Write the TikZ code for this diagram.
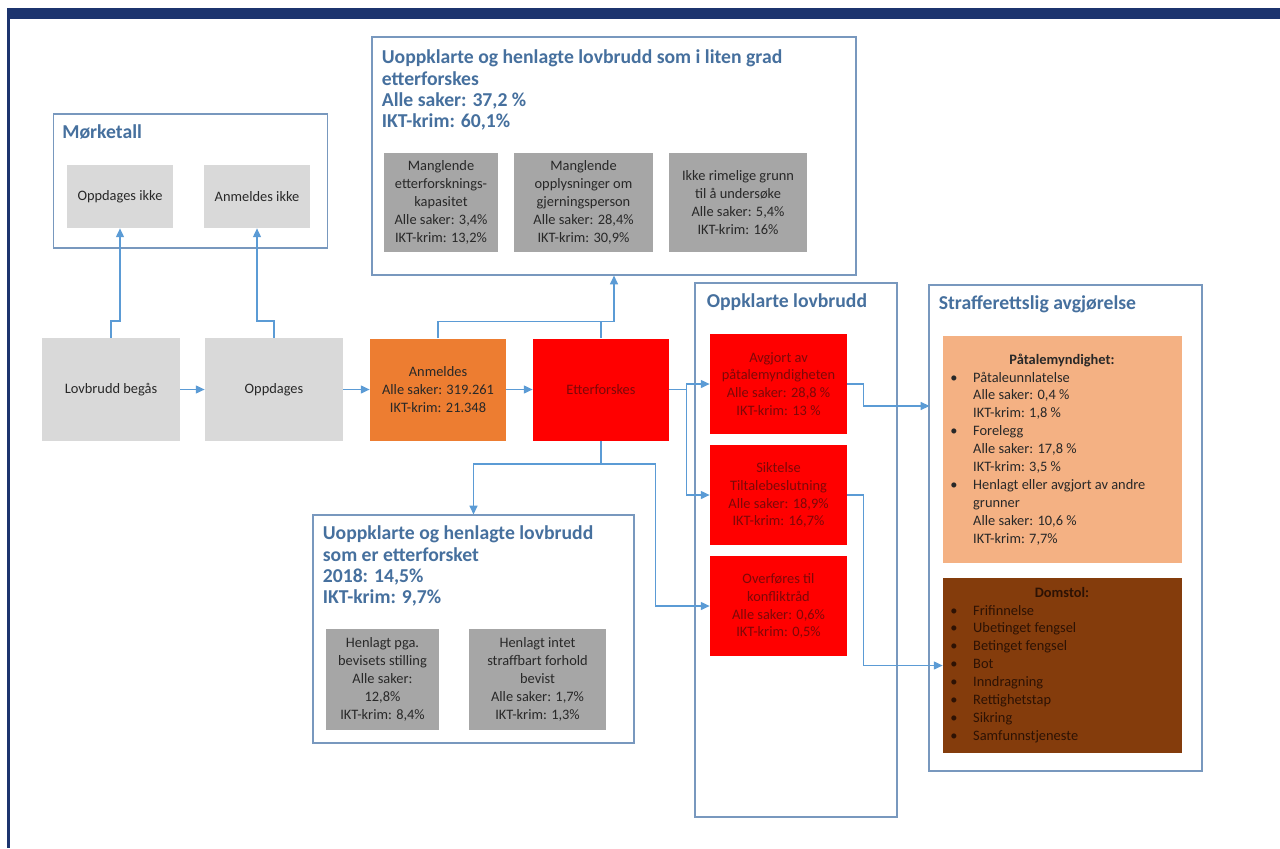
\documentclass[tikz,border=0pt]{standalone}
\usepackage{fontspec}
\setmainfont{Carlito}
\usetikzlibrary{arrows.meta,calc}

\definecolor{navy}{RGB}{28,52,110}
\definecolor{linkblue}{RGB}{91,155,213}
\definecolor{frameblue}{RGB}{120,152,190}
\definecolor{titleblue}{RGB}{70,112,158}
\definecolor{lightgray}{RGB}{217,217,217}
\definecolor{midgray}{RGB}{166,166,166}
\definecolor{boxorange}{RGB}{237,125,49}
\definecolor{boxred}{RGB}{255,0,0}
\definecolor{paleorange}{RGB}{244,177,131}
\definecolor{boxbrown}{RGB}{132,60,12}
\definecolor{redtext}{RGB}{125,8,8}
\definecolor{browntext}{RGB}{45,18,4}
\definecolor{darktext}{RGB}{40,40,40}

\newcommand{\boxfont}{\fontsize{8.2}{10.2}\selectfont}
\newcommand{\headfont}{\fontsize{11.2}{12.2}\selectfont\bfseries}
\newcommand{\bul}{\makebox[13pt][l]{\textbullet}}

\begin{document}
\begin{tikzpicture}[x=0.02cm, y=-0.02cm,
    wh/.style 2 args={minimum width={#1*0.02cm}, minimum height={#2*0.02cm}},
    groupbox/.style={draw=frameblue, line width=0.6pt, fill=white, inner sep=0pt},
    heading/.style={anchor=north west, inner sep=0pt, align=left, text=titleblue, font=\headfont},
    card/.style={inner sep=2pt, align=center, font=\boxfont, text=darktext},
    link/.style={draw=linkblue, line width=0.8pt},
    arr/.style={link, -{Triangle[length=5pt,width=4.5pt]}}]
    \useasboundingbox (0,0) rectangle (1280,848);
    % page frame
    \fill[navy] (8,8) rectangle (1280,19);
    \draw[navy, line width=1.2pt] (8.5,8) -- (8.5,848);

    % groups
    \node[groupbox, wh={274}{134}] (mork) at (190.5,181) {};
    \node[heading] (morkT) at ($(mork.north west)+(9,11)$) {Mørketall};
    \node[groupbox, wh={484}{238}] (uopp1) at (614,156) {};
    \node[heading] (uopp1T) at ($(uopp1.north west)+(10,13)$) {Uoppklarte og henlagte lovbrudd som i liten grad\\etterforskes\\Alle saker: 37,2 \%\\IKT-krim: 60,1\%};
    \node[groupbox, wh={321}{228}] (uopp2) at (473.5,629) {};
    \node[heading] (uopp2T) at ($(uopp2.north west)+(10,11)$) {Uoppklarte og henlagte lovbrudd\\som er etterforsket\\2018: 14,5\%\\IKT-krim: 9,7\%};
    \node[groupbox, wh={202}{534}] (oppk) at (796,550) {};
    \node[heading] (oppkT) at ($(oppk.north west)+(12,11)$) {Oppklarte lovbrudd};
    \node[groupbox, wh={273}{486}] (straff) at (1065.5,528) {};
    \node[heading] (straffT) at ($(straff.north west)+(10,11)$) {Strafferettslig avgjørelse};

    % dark figures
    \node[card, fill=lightgray, wh={106}{63}] (oppik) at (120,196.5) {Oppdages ikke};
    \node[card, fill=lightgray, wh={106}{63}] (anmik) at (257,196.5) {Anmeldes ikke};

    % little investigated
    \node[card, fill=midgray, wh={114}{99}] (kap) at (441,202.5) {Manglende\\etterforsknings-\\kapasitet\\Alle saker: 3,4\%\\IKT-krim: 13,2\%};
    \node[card, fill=midgray, wh={139}{99}] (gjer) at (583.5,202.5) {Manglende\\opplysninger om\\gjerningsperson\\Alle saker: 28,4\%\\IKT-krim: 30,9\%};
    \node[card, fill=midgray, wh={138}{99}] (grunn) at (738,202.5) {Ikke rimelige grunn\\til å undersøke\\Alle saker: 5,4\%\\IKT-krim: 16\%};

    % main chain
    \node[card, fill=lightgray, wh={138}{103}] (lov) at (111,389.5) {Lovbrudd begås};
    \node[card, fill=lightgray, wh={138}{103}] (opp) at (274,389.5) {Oppdages};
    \node[card, fill=boxorange, wh={136}{102}] (anm) at (438,389.5) {Anmeldes\\Alle saker: 319.261\\IKT-krim: 21.348};
    \node[card, fill=boxred, text=redtext, wh={136}{102}] (etter) at (601,389.5) {Etterforskes};

    % investigated, dropped
    \node[card, fill=midgray, wh={113}{101}] (bevis) at (382.5,679.5) {Henlagt pga.\\bevisets stilling\\Alle saker:\\12,8\%\\IKT-krim: 8,4\%};
    \node[card, fill=midgray, wh={137}{101}] (intet) at (537.5,679.5) {Henlagt intet\\straffbart forhold\\bevist\\Alle saker: 1,7\%\\IKT-krim: 1,3\%};

    % solved
    \node[card, fill=boxred, text=redtext, wh={137}{100}] (ok1) at (778.5,384) {Avgjort av\\påtalemyndigheten\\Alle saker: 28,8 \%\\IKT-krim: 13 \%};
    \node[card, fill=boxred, text=redtext, wh={137}{100}] (ok2) at (778.5,495) {Siktelse\\Tiltalebeslutning\\Alle saker: 18,9\%\\IKT-krim: 16,7\%};
    \node[card, fill=boxred, text=redtext, wh={137}{100}] (ok3) at (778.5,606) {Overføres til\\konfliktråd\\Alle saker: 0,6\%\\IKT-krim: 0,5\%};

    % decisions
    \node[card, fill=paleorange, wh={239}{227}] (pata) at (1062.5,449.5) {};
    \node[anchor=base, inner sep=0pt, font=\boxfont\bfseries, text=darktext] (pataT) at (1062,364) {Påtalemyndighet:};
    \node[anchor=base west, inner sep=0pt, font=\boxfont, text=darktext] (pataL) at (950,382) {\begin{tabular}[t]{@{}l@{}l@{}}
        \bul & Påtaleunnlatelse\\
        & Alle saker: 0,4 \%\\
        & IKT-krim: 1,8 \%\\
        \bul & Forelegg\\
        & Alle saker: 17,8 \%\\
        & IKT-krim: 3,5 \%\\
        \bul & Henlagt eller avgjort av andre\\
        & grunner\\
        & Alle saker: 10,6 \%\\
        & IKT-krim: 7,7\%
    \end{tabular}};
    \node[card, fill=boxbrown, wh={239}{175}] (dom) at (1062.5,665.5) {};
    \node[anchor=base, inner sep=0pt, font=\boxfont\bfseries, text=browntext] (domT) at (1062,597) {Domstol:};
    \node[anchor=base west, inner sep=0pt, font=\boxfont, text=browntext] (domL) at (950,615) {\begin{tabular}[t]{@{}l@{}l@{}}
        \bul & Frifinnelse\\
        \bul & Ubetinget fengsel\\
        \bul & Betinget fengsel\\
        \bul & Bot\\
        \bul & Inndragning\\
        \bul & Rettighetstap\\
        \bul & Sikring\\
        \bul & Samfunnstjeneste
    \end{tabular}};
    \coordinate (inpat) at (929.5,406);

    % connectors
    \draw[arr] (lov) -- (opp);
    \draw[arr] (opp) -- (anm);
    \draw[arr] (anm) -- (etter);
    \draw[arr] (lov.north) -- ++(0,-16.5) -| (oppik.south);
    \draw[arr] (opp.north) -- ++(0,-16.5) -| (anmik.south);
    \draw[link] (anm.north) -- ++(0,-16.5) -| (etter.north);
    \draw[arr] (etter.north) -- ++(0,-16.5) -| (uopp1.south);
    \draw[arr] (etter.south) -- ++(0,23) -| (uopp2.north);
    \draw[arr] (etter.south) -- ++(0,23) -| ($(ok3.west)+(-54,0)$) -- (ok3.west);
    \draw[arr] (etter.east) -- ++(17,0) |- (ok1.west);
    \draw[arr] (etter.east) -- ++(17,0) |- (ok2.west);
    \draw[arr] (ok1.east) -- ++(16,0) |- (inpat);
    \draw[arr] (ok2.east) -- ++(16,0) |- (dom.west);
\end{tikzpicture}
\end{document}
